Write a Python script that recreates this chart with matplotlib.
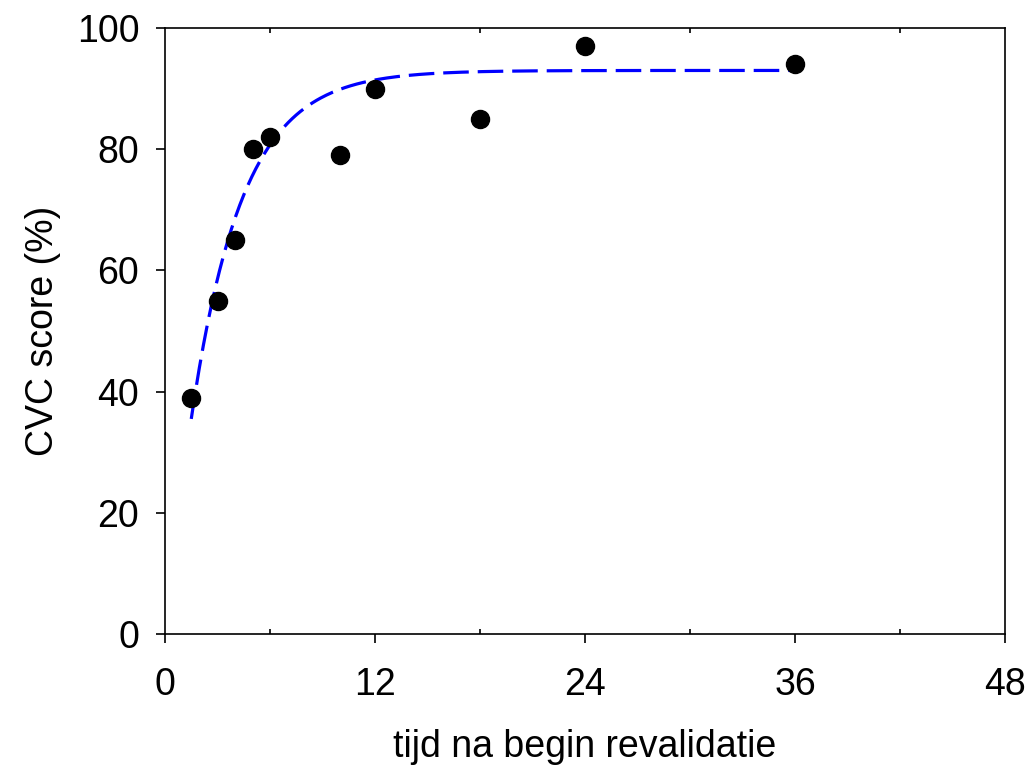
import numpy as np
from matplotlib import pyplot as plt
from matplotlib.ticker import MultipleLocator

plt.rcParams['font.family'] = ['Liberation Sans', 'DejaVu Sans']

# measured CVC scores
months = [1.5, 3, 4, 5, 6, 10, 12, 18, 24, 36]
cvc_score = [39, 55, 65, 80, 82, 79, 90, 85, 97, 94]

# exponential rise to max fit: y = plateau - amp * exp(-rate * x)
plateau = 93.0
amp = 96.2
rate = 0.343
fit_x = np.linspace(1.5, 36, 300)
fit_y = plateau - amp * np.exp(-rate * fit_x)

fig = plt.figure(figsize=(10.3, 7.68), dpi=100)
ax = fig.add_axes([0.1602, 0.1745, 0.8155, 0.789])

ax.plot(fit_x, fit_y, color='#0000ff', lw=2.3, dashes=(8, 2.8), zorder=2)
ax.plot(months, cvc_score, 'o', color='black', ms=13, zorder=3)

ax.set_xlim(0, 48)
ax.set_ylim(0, 100)
ax.xaxis.set_major_locator(MultipleLocator(12))
ax.xaxis.set_minor_locator(MultipleLocator(6))
ax.yaxis.set_major_locator(MultipleLocator(20))

ax.tick_params(axis='x', which='major', direction='out', length=6.5, width=1.2,
               labelsize=27, pad=17, top=False)
ax.tick_params(axis='x', which='minor', direction='in', length=3.8, width=1.2,
               top=True, bottom=True)
ax.tick_params(axis='y', which='major', direction='out', length=6.5, width=1.2,
               labelsize=27, pad=12, right=False)
for s in ax.spines.values():
    s.set_linewidth(1.2)

ax.set_xlabel('tijd na begin revalidatie', fontsize=27, labelpad=19)
ax.set_ylabel('CVC score (%)', fontsize=27, labelpad=11)

fig.savefig('out.png', dpi=100)
